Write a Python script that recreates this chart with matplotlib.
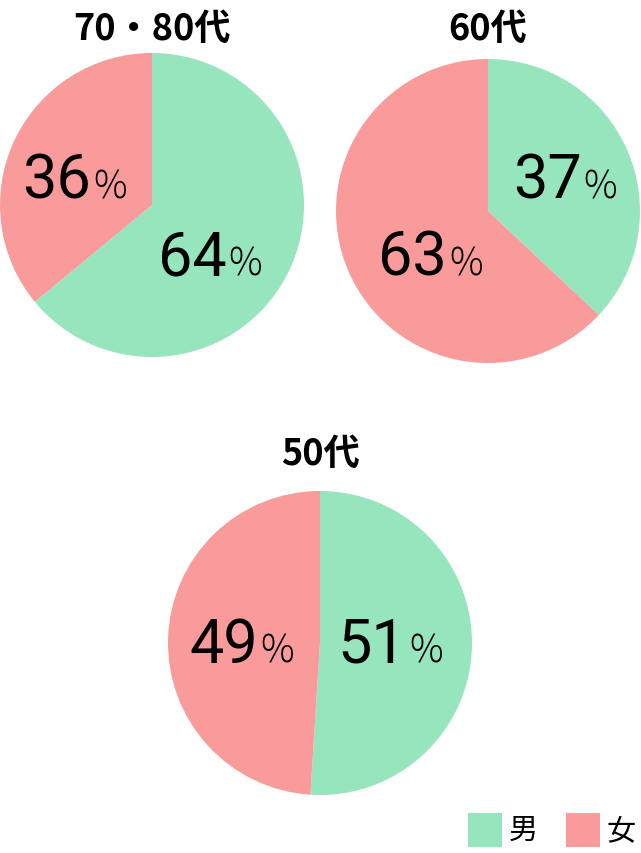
import matplotlib
matplotlib.use('Agg')
import matplotlib.pyplot as plt
from matplotlib.patches import Rectangle

# data
groups      = ['70・80代', '60代', '50代']
male_pct    = [64, 37, 51]
female_pct  = [36, 63, 49]
legend_text = ['男', '女']

# colours
green = '#96e5bc'
pink  = '#f99b9b'

# layout (pixels, figure is 641x854)
W, H = 641, 854
R = 152
centers = [(152, 206), (488, 212), (320, 644)]
title_y = [29, 29, 454]
# label anchors in pie units: (x of boundary between number and %, baseline y)
male_pos   = [(0.50, -0.455), (0.625, 0.09), (0.58, -0.125)]
female_pos = [(-0.39, 0.05), (-0.26, -0.415), (-0.395, -0.125)]

num_font = 'Roboto'
cjk_font = ['Noto Sans CJK JP', 'DejaVu Sans']

fig = plt.figure(figsize=(W / 100, H / 100), dpi=100)

for i in range(len(groups)):
    cx, cy = centers[i]
    ax = fig.add_axes([(cx - R) / W, 1 - (cy + R) / H, 2 * R / W, 2 * R / H])
    ax.pie([male_pct[i], female_pct[i]], colors=[green, pink], startangle=90,
           counterclock=False, radius=1.0, wedgeprops=dict(linewidth=0))
    ax.set_xlim(-1, 1)
    ax.set_ylim(-1, 1)
    ax.axis('off')

    for val, (px, py) in [(male_pct[i], male_pos[i]), (female_pct[i], female_pos[i])]:
        ax.text(px - 0.01, py, str(val), ha='right', va='baseline',
                fontsize=44, family=num_font, color='black')
        ax.text(px + 0.005, py, '%', ha='left', va='baseline',
                fontsize=27, family=cjk_font, fontweight='light', color='black')

    fig.text(cx / W, 1 - title_y[i] / H, groups[i], ha='center', va='center',
             fontsize=26, fontweight='bold', family=cjk_font)

# legend
sq = 34
for x0, col, txt in [(468, green, legend_text[0]), (566, pink, legend_text[1])]:
    fig.patches.append(Rectangle((x0 / W, 1 - 848 / H), sq / W, sq / H,
                                 transform=fig.transFigure, color=col, lw=0))
    fig.text((x0 + sq + 7) / W, 1 - 831 / H, txt, ha='left', va='center',
             fontsize=21, family=cjk_font)

fig.savefig('out.png', dpi=100)
